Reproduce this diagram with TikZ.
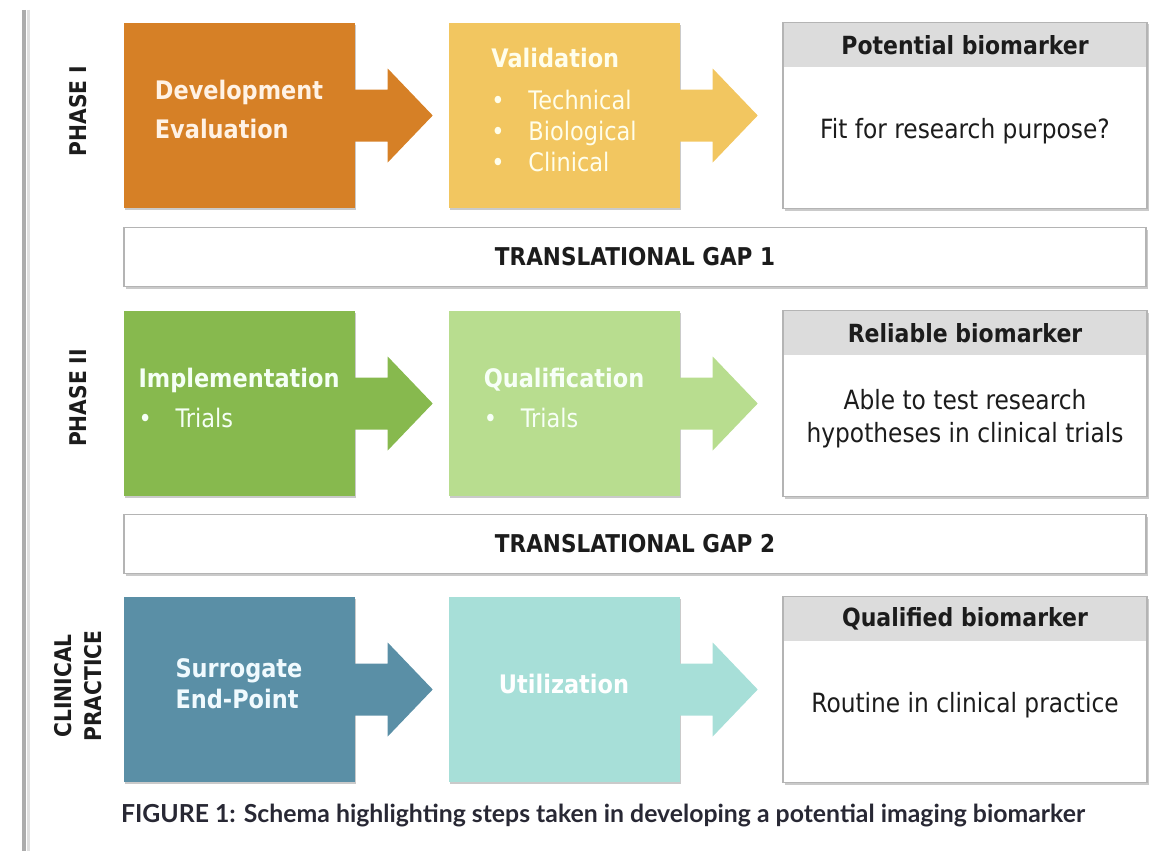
\documentclass[tikz,border=0pt]{standalone}
\usepackage{fontspec}
\setmainfont{DejaVu Sans}[FakeStretch=0.88]
\newfontfamily\captionfont{Lato}
\usetikzlibrary{calc,shadows}

\definecolor{devorange}{RGB}{214,128,38}
\definecolor{valyellow}{RGB}{242,198,96}
\definecolor{impgreen}{RGB}{135,185,78}
\definecolor{qualgreen}{RGB}{184,221,143}
\definecolor{surblue}{RGB}{90,143,166}
\definecolor{utilteal}{RGB}{167,223,216}
\definecolor{hdrgray}{RGB}{220,220,220}
\definecolor{edgegray}{RGB}{180,180,180}
\definecolor{inkdark}{RGB}{28,28,28}
\definecolor{captionink}{RGB}{40,40,52}

\newcommand\bulletitem[1]{\makebox[37pt][l]{\textbullet}#1}

\begin{document}
\begin{tikzpicture}[
  x=1pt, y=-1pt,
  boxshadow/.style = {drop shadow={shadow xshift=1.5pt, shadow yshift=-2pt,
                      opacity=0.35, fill=black!60}},
  stepbox/.style   = {minimum width=231pt, minimum height=185pt, inner sep=0pt,
                      boxshadow},
  steptext/.style  = {align=left, yshift=6pt,
                      font=\fontsize{25.5}{31}\selectfont},
  resultbox/.style = {minimum width=364pt, minimum height=186pt, inner sep=0pt,
                      fill=white, draw=edgegray, line width=1.2pt, boxshadow},
  resulthead/.style= {anchor=north, minimum width=362pt, minimum height=44pt,
                      inner sep=0pt, fill=hdrgray, text=inkdark,
                      font=\fontsize{25}{29}\selectfont\bfseries},
  resultnote/.style= {align=center, text=inkdark,
                      font=\fontsize{26.5}{33}\selectfont},
  gapbar/.style    = {minimum width=1022pt, minimum height=59pt, inner sep=0pt,
                      fill=white, draw=edgegray, line width=1.2pt, boxshadow,
                      text=inkdark, font=\fontsize{24.5}{28}\selectfont\bfseries},
  phaselabel/.style= {rotate=90, align=center, text=inkdark,
                      font=\fontsize{23}{30}\selectfont\bfseries},
]
\useasboundingbox (0,0) rectangle (1158,851);

% ── Page rule on the left ────────────────────────────────────────────────
\draw[line width=3pt, gray!25] (28,10) -- (28,851);
\draw[line width=4pt, gray!65] (24,10) -- (24,851);

% ── Phase I ──────────────────────────────────────────────────────────────
\node[phaselabel] (phase1) at (78,111) {PHASE I};

\node[stepbox, fill=devorange] (dev) at (239,115.5) {};
\node[steptext, text=orange!10] (devtext) at (dev.center)
  {\bfseries Development\\[8pt]\bfseries Evaluation};
\node[stepbox, fill=valyellow] (val) at (564,115.5) {};
\node[steptext, text=yellow!8] (valtext) at (val.center)
  {\bfseries Validation\\[11pt]\bulletitem{Technical}\\\bulletitem{Biological}\\\bulletitem{Clinical}};

\node[resultbox] (pot) at (965,115.5) {};
\node[resulthead] (pothead) at ($(pot.north)+(0,0.6)$) {Potential biomarker};
\node[resultnote] (potnote) at ($(pothead.south)!.5!(pot.south)+(0,-7)$)
  {Fit for research purpose?};

% ── Translational gap 1 ──────────────────────────────────────────────────
\node[gapbar] (gap1) at (635,257) {TRANSLATIONAL GAP 1};

% ── Phase II ─────────────────────────────────────────────────────────────
\node[phaselabel] (phase2) at (78,398) {PHASE II};

\node[stepbox, fill=impgreen] (imp) at (239,403.5) {};
\node[steptext, text=green!4!white] (imptext) at (imp.center)
  {\bfseries Implementation\\[9pt]\bulletitem{Trials}};
\node[stepbox, fill=qualgreen] (qual) at (564,403.5) {};
\node[steptext, text=green!3!white] (qualtext) at (qual.center)
  {\bfseries Qualification\\[9pt]\bulletitem{Trials}};

\node[resultbox] (rel) at (965,403.5) {};
\node[resulthead] (relhead) at ($(rel.north)+(0,0.6)$) {Reliable biomarker};
\node[resultnote] (relnote) at ($(relhead.south)!.5!(rel.south)+(0,-7)$)
  {Able to test research\\hypotheses in clinical trials};

% ── Translational gap 2 ──────────────────────────────────────────────────
\node[gapbar] (gap2) at (635,544) {TRANSLATIONAL GAP 2};

% ── Clinical practice ────────────────────────────────────────────────────
\node[phaselabel] (clin) at (78,686) {CLINICAL\\PRACTICE};

\node[stepbox, fill=surblue] (sur) at (239,689.5) {};
\node[steptext, text=cyan!6!white] (surtext) at (sur.center)
  {\bfseries Surrogate\\\bfseries End-Point};
\node[stepbox, fill=utilteal] (util) at (564,689.5) {};
\node[steptext, text=white] (utiltext) at (util.center)
  {\bfseries Utilization};

\node[resultbox] (qua) at (965,689.5) {};
\node[resulthead] (quahead) at ($(qua.north)+(0,0.6)$) {Qualified biomarker};
\node[resultnote] (quanote) at ($(quahead.south)!.5!(qua.south)+(0,-7)$)
  {Routine in clinical practice};

% ── Block arrows out of each step ────────────────────────────────────────
\foreach \b/\c in {dev/devorange, val/valyellow, imp/impgreen,
                   qual/qualgreen, sur/surblue, util/utilteal} {
  \fill[\c] ($(\b.east)+(0,-26)$) -- ++(33,0) -- ++(0,-21) -- ++(45,47)
    -- ++(-45,47) -- ++(0,-21) -- ($(\b.east)+(0,26)$) -- cycle;
}

% ── Caption ──────────────────────────────────────────────────────────────
\node[text=captionink, font=\captionfont\bfseries\fontsize{24.8}{28}\selectfont]
  (caption) at (603,816)
  {FIGURE 1: Schema highlighting steps taken in developing a potential imaging biomarker};

\end{tikzpicture}
\end{document}
